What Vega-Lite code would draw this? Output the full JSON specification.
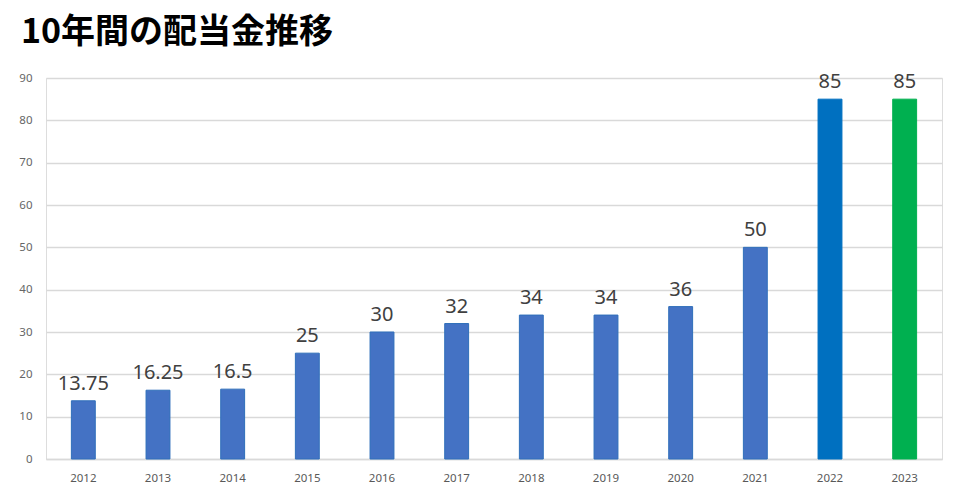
{
  "$schema": "https://vega.github.io/schema/vega-lite/v6.json",
  "width": 896,
  "height": 381,
  "autosize": "none",
  "padding": {"left": 46, "top": 78, "right": 18, "bottom": 34},
  "background": "white",
  "title": {
    "text": "10年間の配当金推移",
    "anchor": "start",
    "frame": "group",
    "dx": -25,
    "offset": 22,
    "font": "Noto Sans CJK JP",
    "fontSize": 34,
    "fontWeight": "bold",
    "color": "#000000"
  },
  "data": {
    "values": [
      {"year": "2012", "value": 13.75, "label": "13.75", "group": "a"},
      {"year": "2013", "value": 16.25, "label": "16.25", "group": "a"},
      {"year": "2014", "value": 16.5, "label": "16.5", "group": "a"},
      {"year": "2015", "value": 25, "label": "25", "group": "a"},
      {"year": "2016", "value": 30, "label": "30", "group": "a"},
      {"year": "2017", "value": 32, "label": "32", "group": "a"},
      {"year": "2018", "value": 34, "label": "34", "group": "a"},
      {"year": "2019", "value": 34, "label": "34", "group": "a"},
      {"year": "2020", "value": 36, "label": "36", "group": "a"},
      {"year": "2021", "value": 50, "label": "50", "group": "a"},
      {"year": "2022", "value": 85, "label": "85", "group": "b"},
      {"year": "2023", "value": 85, "label": "85", "group": "c"}
    ]
  },
  "encoding": {
    "x": {
      "field": "year",
      "type": "nominal",
      "scale": {"paddingInner": 0.68, "paddingOuter": 0.34},
      "axis": {
        "title": null,
        "labelAngle": 0,
        "ticks": false,
        "labelPadding": 13,
        "labelFont": "Noto Sans",
        "labelFontSize": 11.5,
        "labelColor": "#595959",
        "domainColor": "#d9d9d9",
        "domainWidth": 1.3
      }
    },
    "y": {
      "field": "value",
      "type": "quantitative",
      "scale": {"domain": [0, 90], "nice": false},
      "axis": {
        "title": null,
        "values": [0, 10, 20, 30, 40, 50, 60, 70, 80, 90],
        "ticks": false,
        "domain": false,
        "labelPadding": 14,
        "labelFont": "Noto Sans",
        "labelFontSize": 11.5,
        "labelColor": "#666666",
        "gridColor": "#d9d9d9",
        "gridWidth": 1.3
      }
    }
  },
  "layer": [
    {
      "mark": {"type": "bar", "strokeWidth": 1},
      "encoding": {
        "color": {
          "field": "group",
          "type": "nominal",
          "scale": {"domain": ["a", "b", "c"], "range": ["#4472c4", "#0070c0", "#00b050"]},
          "legend": null
        },
        "stroke": {
          "field": "group",
          "type": "nominal",
          "scale": {"domain": ["a", "b", "c"], "range": ["#2f6fba", "#0070c0", "#00b050"]},
          "legend": null
        }
      }
    },
    {
      "mark": {
        "type": "text",
        "baseline": "alphabetic",
        "dy": -11,
        "font": "Noto Sans",
        "fontSize": 20,
        "color": "#404040"
      },
      "encoding": {
        "text": {"field": "label"}
      }
    }
  ]
}
